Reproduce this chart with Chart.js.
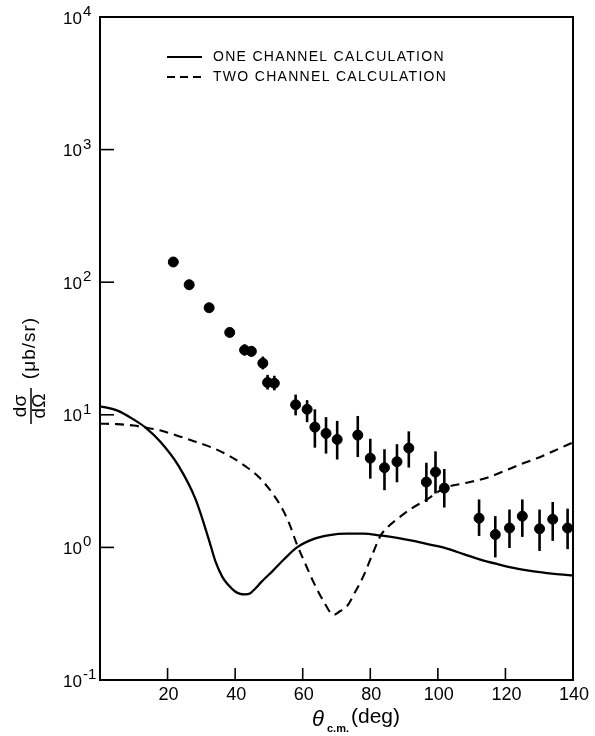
<!DOCTYPE html>
<html>
<head>
<meta charset="utf-8">
<script src="https://cdn.jsdelivr.net/npm/chart.js@4"></script>
<style>
  html, body { margin: 0; padding: 0; background: #fff; }
  canvas { display: block; }
</style>
</head>
<body>
<canvas id="myChart" width="595" height="736"></canvas>
<script>
// measured cross sections (deg, ub/sr) with error bar ends
const angles = [21.7, 26.4, 32.3, 38.4, 42.8, 44.8, 48.2, 49.6, 51.6, 57.9, 61.3, 63.6, 66.9, 70.2, 76.3, 80.0, 84.2, 87.9, 91.4, 96.6, 99.3, 101.9, 112.2, 117.0, 121.2, 125.0, 130.1, 134.0, 138.4];
const sigma = [142, 95.7, 64.2, 41.8, 30.8, 30.1, 24.5, 17.5, 17.3, 11.9, 11.0, 8.07, 7.24, 6.52, 7.03, 4.71, 3.99, 4.43, 5.61, 3.11, 3.70, 2.80, 1.66, 1.25, 1.40, 1.72, 1.38, 1.63, 1.40];
const errLow = [142, 95.7, 64.2, 41.8, 28, 27.5, 22, 15.5, 15.3, 9.9, 8.8, 5.65, 5.1, 4.6, 4.8, 3.3, 2.7, 3.1, 4.0, 2.2, 2.55, 2.0, 1.22, 0.84, 0.99, 1.2, 0.94, 1.12, 0.97];
const errHigh = [142, 95.7, 64.2, 41.8, 34, 33, 27.5, 20, 19.7, 14.2, 12.9, 11.0, 9.6, 9.0, 9.8, 6.6, 5.5, 6.0, 7.5, 4.35, 5.3, 3.9, 2.3, 1.72, 1.93, 2.3, 1.93, 2.2, 1.96];

// one channel calculation (solid)
const oneX = [0, 5, 10, 13.5, 18, 23.3, 28.3, 32.2, 34.2, 36.2, 38, 40, 41.5, 43, 44.5, 46, 47.5, 49, 51, 54.4, 58.3, 63.3, 68, 73.1, 78, 83, 88, 92.8, 97.7, 102.7, 107.6, 112.6, 117.5, 122.4, 127.4, 132.3, 136, 140];
const oneY = [11.6, 10.8, 9.2, 8.0, 6.2, 4.1, 2.3, 1.15, 0.78, 0.6, 0.52, 0.465, 0.447, 0.443, 0.452, 0.49, 0.54, 0.59, 0.66, 0.81, 1.0, 1.16, 1.24, 1.27, 1.27, 1.23, 1.18, 1.12, 1.05, 0.98, 0.89, 0.81, 0.75, 0.70, 0.665, 0.64, 0.625, 0.615];

// two channel calculation (dashed)
const twoX = [0, 5, 10, 13.5, 18, 23.3, 28, 33.2, 38, 43, 47, 50.9, 53.5, 55.9, 58.3, 60.5, 63.3, 66, 69.2, 71, 73.1, 75.5, 78, 80.5, 83, 85.5, 87.9, 92, 96.8, 101.9, 108, 114.6, 119.5, 124.4, 129.3, 134.3, 140];
const twoY = [8.57, 8.5, 8.3, 8.0, 7.6, 6.9, 6.3, 5.65, 4.95, 4.1, 3.4, 2.59, 2.05, 1.54, 1.05, 0.78, 0.54, 0.4, 0.31, 0.33, 0.36, 0.46, 0.61, 0.87, 1.22, 1.45, 1.63, 1.95, 2.3, 2.8, 3.05, 3.35, 3.75, 4.23, 4.7, 5.33, 6.2];

const xTicks = [0, 20, 40, 60, 80, 100, 120, 140];
const yTickExps = [-1, 0, 1, 2, 3, 4];
const legendLabels = ['ONE CHANNEL CALCULATION', 'TWO CHANNEL CALCULATION'];

const FONT = '"Liberation Sans", Arial, sans-serif';

function pts(xs, ys) {
    return xs.map((x, i) => ({x: x, y: ys[i]}));
}

// frame, inward ticks, tick labels, error bars, legend and titles
const decor = {
    id: 'decor',
    beforeDatasetsDraw(chart) {
        const ctx = chart.ctx;
        const ys = chart.scales.y;
        ctx.save();
        ctx.strokeStyle = '#000';
        ctx.lineWidth = 2.6;
        angles.forEach((a, i) => {
            if (errHigh[i] === errLow[i]) return;
            const px = chart.scales.x.getPixelForValue(a);
            ctx.beginPath();
            ctx.moveTo(px, ys.getPixelForValue(errLow[i]));
            ctx.lineTo(px, ys.getPixelForValue(errHigh[i]));
            ctx.stroke();
        });
        ctx.restore();
    },
    afterDraw(chart) {
        const ctx = chart.ctx;
        const a = chart.chartArea;
        const xs = chart.scales.x, ys = chart.scales.y;
        ctx.save();
        ctx.strokeStyle = '#000';
        ctx.fillStyle = '#000';

        // frame
        ctx.lineWidth = 2;
        ctx.strokeRect(a.left, a.top, a.right - a.left, a.bottom - a.top);

        // inward ticks
        ctx.lineWidth = 1.6;
        xs.ticks.forEach(t => {
            if (t.value <= 0 || t.value >= 140) return;
            const px = xs.getPixelForValue(t.value);
            ctx.beginPath();
            ctx.moveTo(px, a.bottom);
            ctx.lineTo(px, a.bottom - 12);
            ctx.stroke();
        });
        ys.ticks.forEach(t => {
            const py = ys.getPixelForValue(t.value);
            if (py <= a.top + 1 || py >= a.bottom - 1) return;
            ctx.beginPath();
            ctx.moveTo(a.left, py);
            ctx.lineTo(a.left + 14, py);
            ctx.stroke();
        });

        // x tick labels
        ctx.font = '18px ' + FONT;
        ctx.textAlign = 'center';
        ctx.textBaseline = 'middle';
        xs.ticks.forEach(t => {
            if (t.value === 0) return;
            ctx.fillText(String(t.value), xs.getPixelForValue(t.value) + 1, 695);
        });

        // y tick labels 10^n
        ys.ticks.forEach((t, i) => {
            const py = ys.getPixelForValue(t.value);
            const e = yTickExps[i];
            ctx.font = '17px ' + FONT;
            ctx.textAlign = 'left';
            ctx.textBaseline = 'middle';
            ctx.fillText('10', 63, py + 2);
            const w = ctx.measureText('10').width;
            ctx.font = '15px ' + FONT;
            ctx.textBaseline = 'alphabetic';
            ctx.fillText(e < 0 ? '-' + (-e) : String(e), 63 + w + 1, py - 1);
        });

        // legend
        ctx.font = '14px ' + FONT;
        ctx.letterSpacing = '1.3px';
        ctx.textAlign = 'left';
        ctx.textBaseline = 'middle';
        ctx.lineWidth = 2.2;
        legendLabels.forEach((lab, i) => {
            const y = 57 + i * 20;
            ctx.setLineDash(i === 0 ? [] : [8, 5]);
            ctx.beginPath();
            ctx.moveTo(167, y);
            ctx.lineTo(202, y);
            ctx.stroke();
            ctx.fillText(lab, 213, y);
        });
        ctx.setLineDash([]);
        ctx.letterSpacing = '0px';

        // x title
        ctx.textBaseline = 'alphabetic';
        ctx.font = 'italic 22px ' + FONT;
        ctx.fillText('θ', 312, 726);
        ctx.font = 'bold 11px ' + FONT;
        ctx.fillText('c.m.', 327, 732);
        ctx.font = '21px ' + FONT;
        ctx.fillText('(deg)', 351, 723);

        // y title (rotated)
        ctx.translate(31, 406);
        ctx.rotate(-Math.PI / 2);
        ctx.textAlign = 'center';
        ctx.textBaseline = 'middle';
        ctx.font = '19px ' + FONT;
        ctx.fillText('dσ', 0, -10);
        ctx.fillText('dΩ', 0, 9);
        ctx.lineWidth = 1.5;
        ctx.beginPath();
        ctx.moveTo(-18, 0);
        ctx.lineTo(18, 0);
        ctx.stroke();
        ctx.font = '19px ' + FONT;
        ctx.letterSpacing = '1px';
        ctx.fillText('(μb/sr)', 58, -1);
        ctx.restore();
    }
};

const ctx = document.getElementById('myChart').getContext('2d');
const myChart = new Chart(ctx, {
    type: 'scatter',
    data: {
        datasets: [
            {
                label: 'data',
                data: pts(angles, sigma),
                pointRadius: 5,
                pointBackgroundColor: '#000',
                pointBorderColor: '#000',
                showLine: false
            },
            {
                label: legendLabels[0],
                data: pts(oneX, oneY),
                showLine: true,
                pointRadius: 0,
                borderColor: '#000',
                borderWidth: 2.3,
                cubicInterpolationMode: 'monotone'
            },
            {
                label: legendLabels[1],
                data: pts(twoX, twoY),
                showLine: true,
                pointRadius: 0,
                borderColor: '#000',
                borderWidth: 2.1,
                borderDash: [9, 6],
                cubicInterpolationMode: 'monotone'
            }
        ]
    },
    options: {
        responsive: false,
        animation: false,
        devicePixelRatio: 1,
        layout: {
            padding: {left: 92, right: 22, top: 17, bottom: 48}
        },
        plugins: {
            legend: {display: false},
            title: {display: false},
            tooltip: {enabled: false}
        },
        scales: {
            x: {
                type: 'linear',
                min: 0,
                max: 140,
                grid: {display: false},
                border: {display: false},
                ticks: {display: false},
                afterBuildTicks: function(scale) {
                    scale.ticks = xTicks.map(v => ({value: v}));
                }
            },
            y: {
                type: 'logarithmic',
                min: 0.1,
                max: 10000,
                grid: {display: false},
                border: {display: false},
                ticks: {display: false},
                afterBuildTicks: function(scale) {
                    scale.ticks = yTickExps.map(e => ({value: Math.pow(10, e)}));
                }
            }
        }
    },
    plugins: [decor]
});
</script>
</body>
</html>
